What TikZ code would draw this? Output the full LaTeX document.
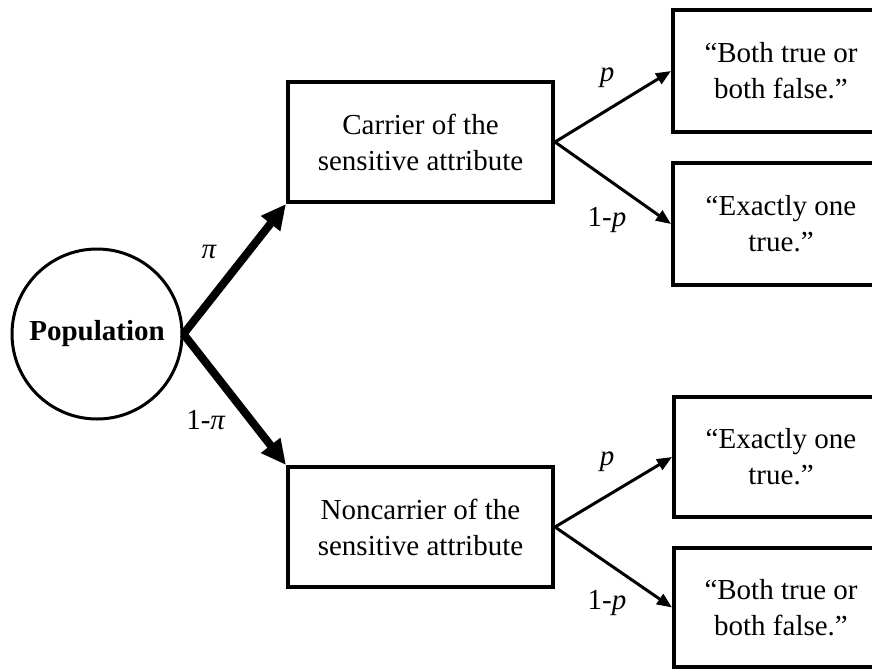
\documentclass[tikz,border=0pt]{standalone}
\usepackage{fontspec}
\setmainfont{Liberation Serif}
\usetikzlibrary{arrows.meta}
\begin{document}
\begin{tikzpicture}[x=1pt,y=-1pt,
  every node/.style={font=\fontsize{29}{36}\selectfont},
  box/.style={draw,line width=4pt,align=center,inner sep=0pt},
  pop/.style={draw,circle,line width=3pt,minimum size=170pt,inner sep=0pt,font=\fontsize{29}{36}\selectfont\bfseries},
  thick arrow/.style={line width=8pt,-{Triangle[length=25pt,width=23pt]}},
  thin arrow/.style={line width=3pt,-{Triangle[length=15pt,width=12pt]}},
  lbl/.style={font=\fontsize{29}{36}\selectfont}]
\useasboundingbox (0,0) rectangle (872,670);
\node[pop] (pop) at (97,334) {Population};
\node[box,minimum width=265pt,minimum height=120pt] (car) at (420.5,142) {Carrier of the\\sensitive attribute};
\node[box,minimum width=265pt,minimum height=120pt] (non) at (420.5,527) {Noncarrier of the\\sensitive attribute};
\node[box,minimum width=216pt,minimum height=122pt] (b1) at (781,71) {“Both true or\\both false.”};
\node[box,minimum width=216pt,minimum height=122pt] (b2) at (781,224) {“Exactly one\\true.”};
\node[box,minimum width=214pt,minimum height=120pt] (b3) at (781,457) {“Exactly one\\true.”};
\node[box,minimum width=214pt,minimum height=119pt] (b4) at (781,607.5) {“Both true or\\both false.”};
\draw[thick arrow] (pop.east) -- (car.south west);
\draw[thick arrow] (pop.east) -- (non.north west);
\draw[thin arrow] (car.east) -- (b1.west);
\draw[thin arrow] (car.east) -- (b2.west);
\draw[thin arrow] (non.east) -- (b3.west);
\draw[thin arrow] (non.east) -- (b4.west);
\node[lbl] (l1) at (209,252) {\itshape π};
\node[lbl] (l2) at (206,420) {1-\textit{π}};
\node[lbl] (l3) at (607,78) {\itshape p};
\node[lbl] (l4) at (607,220) {1-\textit{p}};
\node[lbl] (l5) at (607,462) {\itshape p};
\node[lbl] (l6) at (607,603) {1-\textit{p}};
\end{tikzpicture}
\end{document}
